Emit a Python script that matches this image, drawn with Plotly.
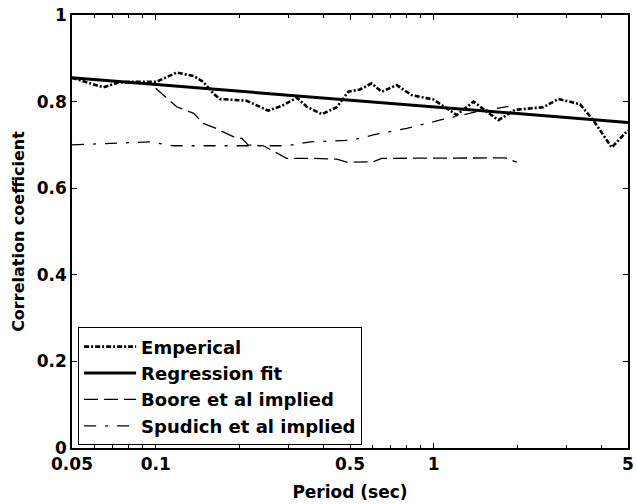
import plotly.graph_objects as go

# Data
emp_x = [0.05, 0.0648, 0.0734, 0.083, 0.1009, 0.119, 0.137, 0.148, 0.161, 0.170, 0.2125, 0.254,
         0.284, 0.322, 0.35, 0.396, 0.448, 0.493, 0.543, 0.598, 0.65, 0.736, 0.833, 0.997, 1.21,
         1.39, 1.55, 1.71, 1.96, 2.48, 2.81, 3.36, 3.75, 4.37, 5.0]
emp_y = [0.855, 0.833, 0.844, 0.846, 0.846, 0.867, 0.859, 0.846, 0.819, 0.806, 0.802, 0.779,
         0.790, 0.809, 0.788, 0.771, 0.787, 0.823, 0.828, 0.842, 0.823, 0.838, 0.815, 0.805, 0.769,
         0.800, 0.777, 0.757, 0.781, 0.787, 0.806, 0.794, 0.757, 0.694, 0.734]

reg_x = [0.05, 5.0]
reg_y = [0.855, 0.752]

boore_x = [0.1, 0.119, 0.137, 0.148, 0.165, 0.19, 0.204, 0.215, 0.244, 0.272, 0.296, 0.369,
           0.448, 0.487, 0.543, 0.606, 0.65, 0.866, 1.39, 1.81, 1.99]
boore_y = [0.831, 0.788, 0.773, 0.750, 0.738, 0.719, 0.715, 0.700, 0.698, 0.682, 0.669, 0.669,
           0.667, 0.660, 0.660, 0.661, 0.669, 0.669, 0.669, 0.670, 0.660]

spud_x = [0.05, 0.095, 0.10, 0.116, 0.157, 0.296, 0.36, 0.51, 0.606, 0.80, 1.05, 1.39, 1.99]
spud_y = [0.700, 0.707, 0.705, 0.698, 0.698, 0.698, 0.707, 0.711, 0.723, 0.738, 0.757, 0.775, 0.792]

x_ticks = [0.05, 0.1, 0.5, 1, 5]
x_ticklabels = ["0.05", "0.1", "0.5", "1", "5"]
x_minor = [0.06, 0.07, 0.08, 0.09, 0.2, 0.3, 0.4, 0.6, 0.7, 0.8, 0.9, 2, 3, 4]
y_ticks = [0, 0.2, 0.4, 0.6, 0.8, 1]
y_ticklabels = ["0", "0.2", "0.4", "0.6", "0.8", "1"]

FONT = "DejaVu Sans"

fig = go.Figure()
fig.add_trace(go.Scatter(x=emp_x, y=emp_y, mode="lines", name="Emperical",
                         line=dict(color="black", width=2.6, dash="5px,2px,2px,2px")))
fig.add_trace(go.Scatter(x=reg_x, y=reg_y, mode="lines", name="Regression fit",
                         line=dict(color="black", width=3)))
fig.add_trace(go.Scatter(x=boore_x, y=boore_y, mode="lines", name="Boore et al implied",
                         line=dict(color="black", width=1.3, dash="14px,6px")))
fig.add_trace(go.Scatter(x=spud_x, y=spud_y, mode="lines", name="Spudich et al implied",
                         line=dict(color="black", width=1.3, dash="12px,9px,3px,9px")))

fig.update_layout(
    width=637, height=504,
    margin=dict(l=72, r=9, t=15, b=56),
    paper_bgcolor="white", plot_bgcolor="white",
    font=dict(family=FONT, size=17, color="black", weight="bold"),
    showlegend=True,
    legend=dict(x=0.011, y=0.006, xanchor="left", yanchor="bottom",
                bordercolor="black", borderwidth=1, bgcolor="white",
                font=dict(family=FONT, size=18, color="black", weight="bold"),
                tracegroupgap=0, itemwidth=52),
)
fig.update_xaxes(type="log", range=[-1.30103, 0.69897], automargin=False,
                 tickvals=x_ticks, ticktext=x_ticklabels,
                 ticks="inside", ticklen=5, tickcolor="black",
                 minor=dict(tickvals=x_minor, ticks="inside", ticklen=3, tickcolor="black"),
                 showline=True, linecolor="black", linewidth=1.5, mirror="ticks",
                 showgrid=False, zeroline=False,
                 title=dict(text="Period (sec)", standoff=13,
                            font=dict(family=FONT, size=17, weight="bold")),
                 tickfont=dict(family=FONT, size=17, weight="bold"))
fig.update_yaxes(range=[0, 1], automargin=False, tickvals=y_ticks, ticktext=y_ticklabels,
                 ticks="inside", ticklen=5, tickcolor="black",
                 showline=True, linecolor="black", linewidth=1.5, mirror="ticks",
                 showgrid=False, zeroline=False,
                 title=dict(text="Correlation coefficient", standoff=8,
                            font=dict(family=FONT, size=16, weight="bold")),
                 tickfont=dict(family=FONT, size=17, weight="bold"))

fig.write_html("out.html")
